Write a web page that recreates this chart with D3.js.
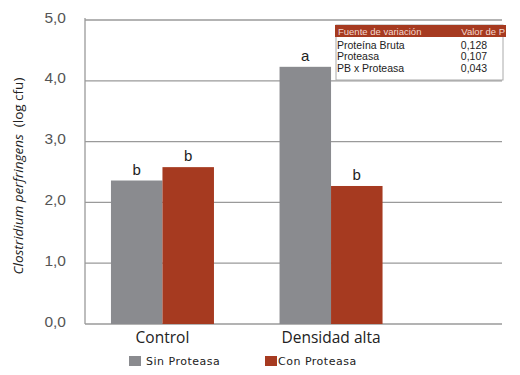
<!DOCTYPE html>
<html><head><meta charset="utf-8">
<script src="https://cdn.jsdelivr.net/npm/d3@7"></script>
<style>body{margin:0;background:#fff}svg{display:block}</style>
</head><body>
<script>
const categories = ["Control", "Densidad alta"];
const seriesNames = ["Sin Proteasa", "Con Proteasa"];
const sinProteasa = [2.36, 4.23];
const conProteasa = [2.58, 2.27];
const sinLetters = ["b", "a"];
const conLetters = ["b", "b"];
const yTicks = [0, 1, 2, 3, 4, 5];
const tableHeader = ["Fuente de variación", "Valor de P"];
const tableSources = ["Proteína Bruta", "Proteasa", "PB x Proteasa"];
const tablePValues = ["0,128", "0,107", "0,043"];

const W = 520, H = 375;
const colors = ["#8a8b8f", "#a63a20"];
const svg = d3.select("body").append("svg").attr("width", W).attr("height", H);

const x0 = 85, xEnd = 502;
const y = d3.scaleLinear().domain([0, 5]).range([324, 20]);
const x = d3.scaleBand().domain(categories).range([x0, 408.5]).paddingInner(0.389).paddingOuter(0.154);
const xs = d3.scaleBand().domain(seriesNames).range([0, x.bandwidth()]);

// gridlines
svg.append("g").selectAll("line").data(yTicks).join("line")
  .attr("x1", x0).attr("x2", xEnd)
  .attr("y1", d => y(d)).attr("y2", d => y(d))
  .attr("stroke", "#9a9a9a").attr("stroke-width", 1.3);
// y axis line
svg.append("line").attr("x1", x0).attr("x2", x0).attr("y1", y(5) - 2).attr("y2", y(0))
  .attr("stroke", "#9a9a9a").attr("stroke-width", 1.3);
// y tick labels
const fmt = d => d.toFixed(1).replace(".", ",");
svg.append("g").selectAll("text").data(yTicks).join("text")
  .attr("x", 66).attr("y", d => y(d) - 3)
  .attr("text-anchor", "end").attr("dominant-baseline", "central")
  .attr("font-family", "Liberation Sans, Arial, sans-serif").attr("font-size", 15.5)
  .attr("fill", "#555").text(fmt);

// y title
const yt = svg.append("text").attr("transform", "translate(18,176) rotate(-90)")
  .attr("text-anchor", "middle").attr("dominant-baseline", "central")
  .attr("font-family", "Open Sans, sans-serif").attr("font-size", 13.5).attr("fill", "#222");
yt.append("tspan").attr("font-style", "italic").text("Clostridium perfringens");
yt.append("tspan").text("\u00a0 (log cfu)");

// bars
const seriesVals = [sinProteasa, conProteasa];
const seriesLetters = [sinLetters, conLetters];
seriesNames.forEach((s, si) => {
  const g = svg.append("g");
  g.selectAll("rect").data(categories).join("rect")
    .attr("x", c => x(c) + xs(s)).attr("width", xs.bandwidth())
    .attr("y", (c, i) => y(seriesVals[si][i]))
    .attr("height", (c, i) => y(0) - y(seriesVals[si][i]))
    .attr("fill", colors[si]);
  g.selectAll("text").data(categories).join("text")
    .attr("x", c => x(c) + xs(s) + xs.bandwidth() / 2)
    .attr("y", (c, i) => y(seriesVals[si][i]) - 6)
    .attr("text-anchor", "middle")
    .attr("font-family", "Liberation Sans, Arial, sans-serif").attr("font-size", 15)
    .attr("fill", "#222").text((c, i) => seriesLetters[si][i]);
});

// x labels
svg.append("g").selectAll("text").data(categories).join("text")
  .attr("x", c => x(c) + x.bandwidth() / 2).attr("y", 343)
  .attr("text-anchor", "middle")
  .attr("font-family", "Open Sans, sans-serif").attr("font-size", 15.5)
  .attr("fill", "#222").text(c => c);

// legend
const legX = [129, 265];
seriesNames.forEach((s, i) => {
  svg.append("rect").attr("x", legX[i]).attr("y", 356).attr("width", 12).attr("height", 10).attr("fill", colors[i]);
  svg.append("text").attr("x", legX[i] + (i === 0 ? 17 : 13)).attr("y", 361)
    .attr("dominant-baseline", "central")
    .attr("font-family", "DejaVu Sans, sans-serif").attr("font-size", 11).attr("letter-spacing", 0.5)
    .attr("fill", "#222").text(s);
});

// table
const tb = svg.append("g");
tb.append("rect").attr("x", 336).attr("y", 25).attr("width", 167).attr("height", 55)
  .attr("fill", "#fff").attr("stroke", "#aaa").attr("stroke-width", 1);
tb.append("rect").attr("x", 335).attr("y", 25).attr("width", 171).attr("height", 12).attr("fill", "#a63a20");
tb.append("text").attr("x", 338).attr("y", 31.5).attr("dominant-baseline", "central")
  .attr("font-family", "Liberation Sans, Arial, sans-serif").attr("font-size", 9.5)
  .attr("fill", "#f3d8d0").text(tableHeader[0]);
tb.append("text").attr("x", 505).attr("y", 31.5).attr("dominant-baseline", "central").attr("text-anchor", "end")
  .attr("font-family", "Liberation Sans, Arial, sans-serif").attr("font-size", 9.5)
  .attr("fill", "#f3d8d0").text(tableHeader[1]);
tableSources.forEach((s, i) => {
  tb.append("text").attr("x", 337).attr("y", 45 + i * 11.3).attr("dominant-baseline", "central")
    .attr("font-family", "Liberation Sans, Arial, sans-serif").attr("font-size", 10.5)
    .attr("fill", "#222").text(s);
  tb.append("text").attr("x", 474).attr("y", 45 + i * 11.3).attr("dominant-baseline", "central").attr("text-anchor", "middle")
    .attr("font-family", "Liberation Sans, Arial, sans-serif").attr("font-size", 10.5)
    .attr("fill", "#222").text(tablePValues[i]);
});
</script>
</body></html>
